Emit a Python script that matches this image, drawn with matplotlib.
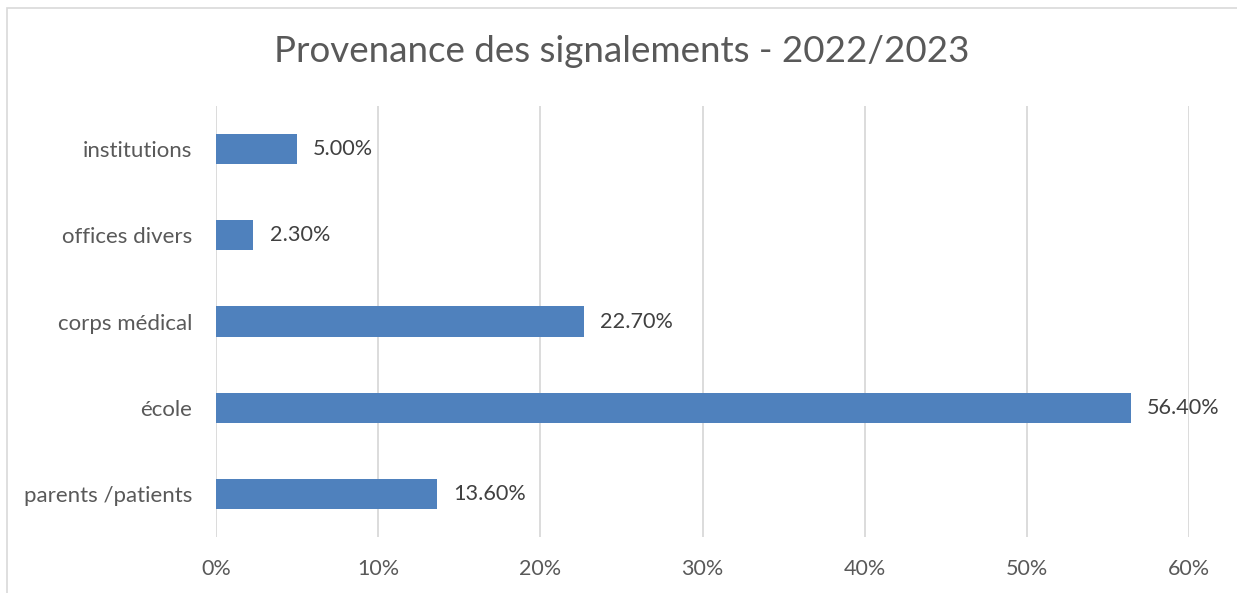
import matplotlib
matplotlib.use('Agg')
import matplotlib.pyplot as plt
from matplotlib.patches import Rectangle

categories = ['parents /patients', 'école', 'corps médical', 'offices divers', 'institutions']
values = [13.6, 56.4, 22.7, 2.3, 5.0]
xticks = [0, 10, 20, 30, 40, 50, 60]

plt.rcParams['font.family'] = ['Lato', 'DejaVu Sans']
TXT = '#595959'

fig = plt.figure(figsize=(12.37, 5.93), dpi=100)
ax = fig.add_axes([216 / 1237, 1 - 537 / 593, (1189 - 216) / 1237, (537 - 106) / 593])

# outer chart border (right and bottom edges are cut off in the original)
fig.patches.append(Rectangle((7 / 1237, -0.02), 1.0, 1.02 - 8 / 593,
                             transform=fig.transFigure, fill=False,
                             edgecolor='#d9d9d9', lw=1.2, clip_on=False))

ypos = range(len(categories))
ax.barh(ypos, values, height=0.35, color='#4f81bd', zorder=3)
for y, v in zip(ypos, values):
    ax.text(v + 1.0, y, f'{v:.2f}%', va='center', ha='left', fontsize=15.6, color='#404040')

ax.set_xlim(0, 60)
ax.set_ylim(-0.5, 4.5)
ax.set_xticks(xticks)
ax.set_xticklabels([f'{t}%' for t in xticks], fontsize=15.5, color=TXT)
ax.set_yticks(list(ypos))
ax.set_yticklabels(categories, fontsize=16, color=TXT)
ax.tick_params(length=0, pad=17, axis='y')
ax.tick_params(length=0, pad=16, axis='x')
ax.grid(axis='x', color='#d9d9d9', lw=1.3, zorder=0)
for s in ax.spines.values():
    s.set_visible(False)

fig.text(0.5 * (272 + 972) / 1237, 1 - 52 / 593, 'Provenance des signalements - 2022/2023',
         ha='center', va='center', fontsize=26.5, color=TXT)

fig.savefig('out.png', dpi=100)
